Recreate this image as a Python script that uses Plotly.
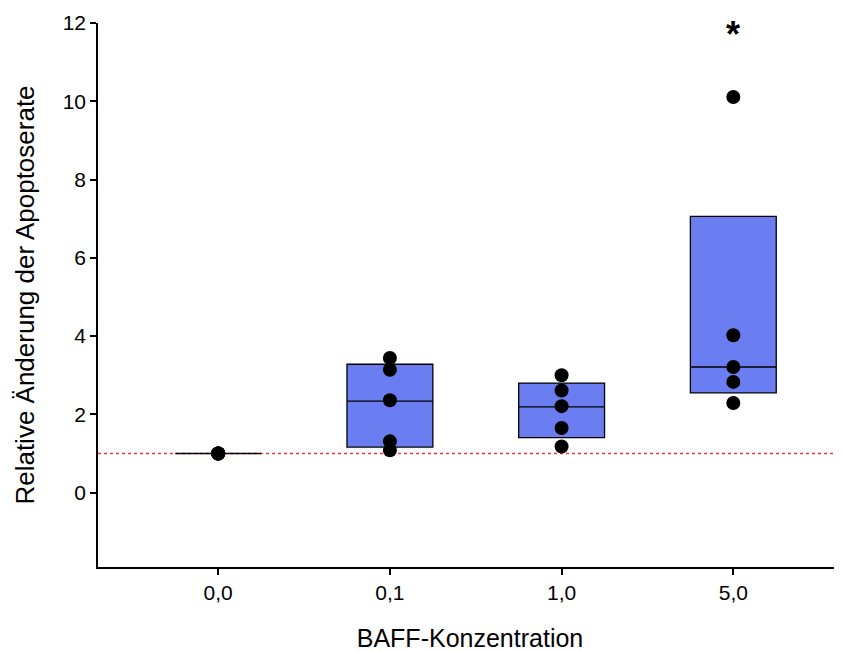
import plotly.graph_objects as go

categories = ["0,0", "0,1", "1,0", "5,0"]
q1 = [1.0, 1.165, 1.405, 2.55]
median = [1.0, 2.34, 2.19, 3.21]
q3 = [1.0, 3.28, 2.80, 7.06]

points = {
    "0,0": [1.0, 1.0, 1.0, 1.0, 1.0],
    "0,1": [3.44, 3.14, 2.36, 1.31, 1.08],
    "1,0": [3.00, 2.61, 2.21, 1.65, 1.18],
    "5,0": [10.11, 4.02, 3.21, 2.83, 2.29],
}
significant = ["5,0"]
sig_y = [11.83]
reference_level = 1.0

fig = go.Figure()
fig.add_trace(go.Box(
    x=categories, q1=q1, median=median, q3=q3,
    lowerfence=q1, upperfence=q3,
    fillcolor="#6a7ef2", line=dict(color="black", width=1.3),
    whiskerwidth=0, width=0.5, boxpoints=False, showlegend=False, hoverinfo="skip",
))
xs, ys = [], []
for c in categories:
    for v in points[c]:
        xs.append(c)
        ys.append(v)
fig.add_trace(go.Scatter(
    x=xs, y=ys, mode="markers",
    marker=dict(color="black", size=14), showlegend=False,
))
for c, v in zip(significant, sig_y):
    fig.add_annotation(x=c, y=v, text="<b>*</b>", showarrow=False,
                       font=dict(family="Liberation Sans", size=36, color="black"),
                       yshift=-5)
fig.add_shape(type="line", xref="paper", x0=0, x1=1, yref="y",
              y0=reference_level, y1=reference_level,
              line=dict(color="#ff3030", width=1.3, dash="dot"), layer="below")

fig.update_layout(
    width=834, height=644,
    margin=dict(l=90, r=0, t=15, b=85),
    plot_bgcolor="white", paper_bgcolor="white",
    font=dict(family="Liberation Sans", color="black", size=21),
    xaxis=dict(
        type="category", range=[-0.70, 3.633],
        showline=True, linecolor="black", linewidth=1.5,
        ticks="outside", ticklen=6, tickwidth=1.5, tickcolor="black",
        showgrid=False, zeroline=False,
        tickfont=dict(size=21),
        title=dict(text="BAFF-Konzentration", font=dict(size=25), standoff=28),
    ),
    yaxis=dict(
        range=[-1.9, 12], tick0=0, dtick=2,
        showline=True, linecolor="black", linewidth=1.5,
        ticks="outside", ticklen=6, tickwidth=1.5, tickcolor="black",
        showgrid=False, zeroline=False,
        tickfont=dict(size=21),
        title=dict(text="Relative Änderung der Apoptoserate", font=dict(size=26), standoff=21),
    ),
)
fig.write_html("out.html")
